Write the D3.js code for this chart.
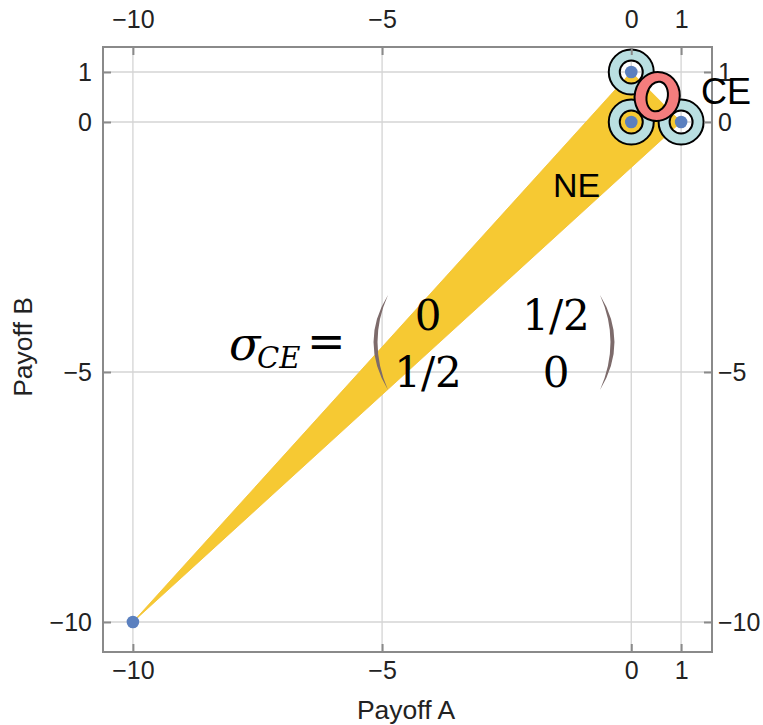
<!DOCTYPE html>
<html>
<head>
<meta charset="utf-8">
<script src="https://cdn.jsdelivr.net/npm/d3@7"></script>
<style>
  html, body { margin: 0; padding: 0; background: #fff; }
  svg { display: block; }
</style>
</head>
<body>
<svg id="chart" width="763" height="725"></svg>
<script>
// ---- data ----
const tickValuesA = [-10, -5, 0, 1];
const tickValuesB = [-10, -5, 0, 1];
const outcomeA = [-10, 0, 0, 1];
const outcomeB = [-10, 1, 0, 0];
const neRegionA = [-10, 0, 1];
const neRegionB = [-10, 1, 0];
const ringedA = [0, 1, 0];
const ringedB = [1, 0, 0];
const ceA = [0.5];
const ceB = [0.5];
const ceMatrix = [["0", "1/2"], ["1/2", "0"]];
const axisLabelA = "Payoff A";
const axisLabelB = "Payoff B";

(function () {
// ---- layout ----
const svg = d3.select("#chart");
const pLeft = 103, pRight = 712, pTop = 47, pBottom = 652;
const x = d3.scaleLinear().domain([-10.6, 1.62]).range([pLeft, pRight]);
const y = d3.scaleLinear().domain([-10.6, 1.5]).range([pBottom, pTop]);

const gridColor = "#d4d4d4";
const frameColor = "#8a8a8a";
const textColor = "#222";
const sans = "'Liberation Sans', Arial, sans-serif";

// grid
svg.append("g").selectAll("line").data(tickValuesA).join("line")
  .attr("x1", d => x(d)).attr("x2", d => x(d))
  .attr("y1", pTop).attr("y2", pBottom)
  .attr("stroke", gridColor).attr("stroke-width", 1.3);
svg.append("g").selectAll("line").data(tickValuesB).join("line")
  .attr("y1", d => y(d)).attr("y2", d => y(d))
  .attr("x1", pLeft).attr("x2", pRight)
  .attr("stroke", gridColor).attr("stroke-width", 1.3);

// NE region
const nePts = neRegionA.map((a, i) => [x(a), y(neRegionB[i])]);
svg.append("path")
  .attr("d", d3.line()(nePts) + "Z")
  .attr("fill", "#f6c933")
  .attr("stroke", "#f2c030")
  .attr("stroke-width", 0.8);

// outcome points
svg.append("g").selectAll("circle").data(outcomeA.map((a, i) => [a, outcomeB[i]])).join("circle")
  .attr("cx", d => x(d[0])).attr("cy", d => y(d[1]))
  .attr("r", 6.3).attr("fill", "#5b80bf");

// rings around pure NE / mixed
const ringData = ringedA.map((a, i) => [a, ringedB[i]]);
const rOut = 22.5, rIn = 11.5;
const rings = svg.append("g").selectAll("g").data(ringData).join("g")
  .attr("transform", d => `translate(${x(d[0])},${y(d[1])})`);
rings.append("path")
  .attr("d", d3.arc().innerRadius(rIn).outerRadius(rOut).startAngle(0).endAngle(2 * Math.PI)())
  .attr("fill", "#b9dfe1");
rings.append("circle").attr("r", rOut).attr("fill", "none").attr("stroke", "#000").attr("stroke-width", 2);
rings.append("circle").attr("r", rIn).attr("fill", "none").attr("stroke", "#000").attr("stroke-width", 2);

// CE ring (elliptical donut)
const ceG = svg.append("g").selectAll("g").data(ceA.map((a, i) => [a, ceB[i]])).join("g")
  .attr("transform", d => `translate(${x(d[0]) + 1},${y(d[1]) - 0.5}) rotate(12)`);
function ellipsePath(rx, ry) {
  return `M ${-rx} 0 A ${rx} ${ry} 0 1 0 ${rx} 0 A ${rx} ${ry} 0 1 0 ${-rx} 0 Z`;
}
ceG.append("path")
  .attr("d", ellipsePath(22.5, 24.5) + " " + ellipsePath(10.5, 15))
  .attr("fill", "#f47d7d").attr("fill-rule", "evenodd");
ceG.append("ellipse").attr("rx", 22.5).attr("ry", 24.5).attr("fill", "none").attr("stroke", "#000").attr("stroke-width", 2);
ceG.append("ellipse").attr("rx", 10.5).attr("ry", 15).attr("fill", "none").attr("stroke", "#000").attr("stroke-width", 2);

// frame
svg.append("rect")
  .attr("x", pLeft).attr("y", pTop).attr("width", pRight - pLeft).attr("height", pBottom - pTop)
  .attr("fill", "none").attr("stroke", frameColor).attr("stroke-width", 2);

// axes
const fmt = d3.format("");
function styleAxis(g) {
  g.select(".domain").remove();
  g.selectAll(".tick line").attr("stroke", frameColor).attr("stroke-width", 2);
  g.selectAll(".tick text").attr("fill", textColor).attr("font-family", sans).attr("font-size", 25);
}
svg.append("g").attr("transform", `translate(0,${pBottom})`)
  .call(d3.axisBottom(x).tickValues(tickValuesA).tickFormat(fmt).tickSize(-8).tickPadding(9)).call(styleAxis);
svg.append("g").attr("transform", `translate(0,${pTop})`)
  .call(d3.axisTop(x).tickValues(tickValuesA).tickFormat(fmt).tickSize(-8).tickPadding(19)).call(styleAxis);
svg.append("g").attr("transform", `translate(${pLeft},0)`)
  .call(d3.axisLeft(y).tickValues(tickValuesB).tickFormat(fmt).tickSize(-8).tickPadding(11)).call(styleAxis);
svg.append("g").attr("transform", `translate(${pRight},0)`)
  .call(d3.axisRight(y).tickValues(tickValuesB).tickFormat(fmt).tickSize(-8).tickPadding(6)).call(styleAxis);

// axis labels
svg.append("text").attr("x", 406).attr("y", 719).attr("text-anchor", "middle")
  .attr("font-family", sans).attr("font-size", 26.5).attr("fill", textColor).text(axisLabelA);
svg.append("text").attr("transform", "translate(32,347) rotate(-90)").attr("text-anchor", "middle")
  .attr("font-family", sans).attr("font-size", 26.5).attr("fill", textColor).text(axisLabelB);

// region labels
svg.append("text").attr("x", 701).attr("y", 104).attr("font-family", sans).attr("font-size", 36).attr("fill", "#000").text("CE");
svg.append("text").attr("x", 553).attr("y", 197).attr("font-family", sans).attr("font-size", 34).attr("fill", "#000").text("NE");

// formula sigma_CE = matrix
const serif = "'DejaVu Serif', 'Liberation Serif', serif";
svg.append("text").attr("x", 229).attr("y", 360).attr("font-family", serif).attr("font-style", "italic")
  .attr("font-size", 46).attr("fill", "#000").text("σ");
svg.append("text").attr("x", 257).attr("y", 368).attr("font-family", serif).attr("font-style", "italic")
  .attr("font-size", 29).attr("fill", "#000").text("CE");
svg.append("text").attr("x", 307).attr("y", 357).attr("font-family", serif)
  .attr("font-size", 46).attr("fill", "#000").text("=");
const colX = [428, 556], rowY = [330, 387];
ceMatrix.forEach((row, r) => row.forEach((v, c) => {
  svg.append("text").attr("x", colX[c]).attr("y", rowY[r]).attr("text-anchor", "middle")
    .attr("font-family", serif).attr("font-size", 42).attr("fill", "#000").text(v);
}));
const parenColor = "#7d6b6b";
svg.append("path").attr("d", "M 388 295 Q 359 342 388 390 Q 367 342 388 295 Z").attr("fill", parenColor);
svg.append("path").attr("d", "M 600 295 Q 629 342 600 390 Q 621 342 600 295 Z").attr("fill", parenColor);
})();
</script>
</body>
</html>
